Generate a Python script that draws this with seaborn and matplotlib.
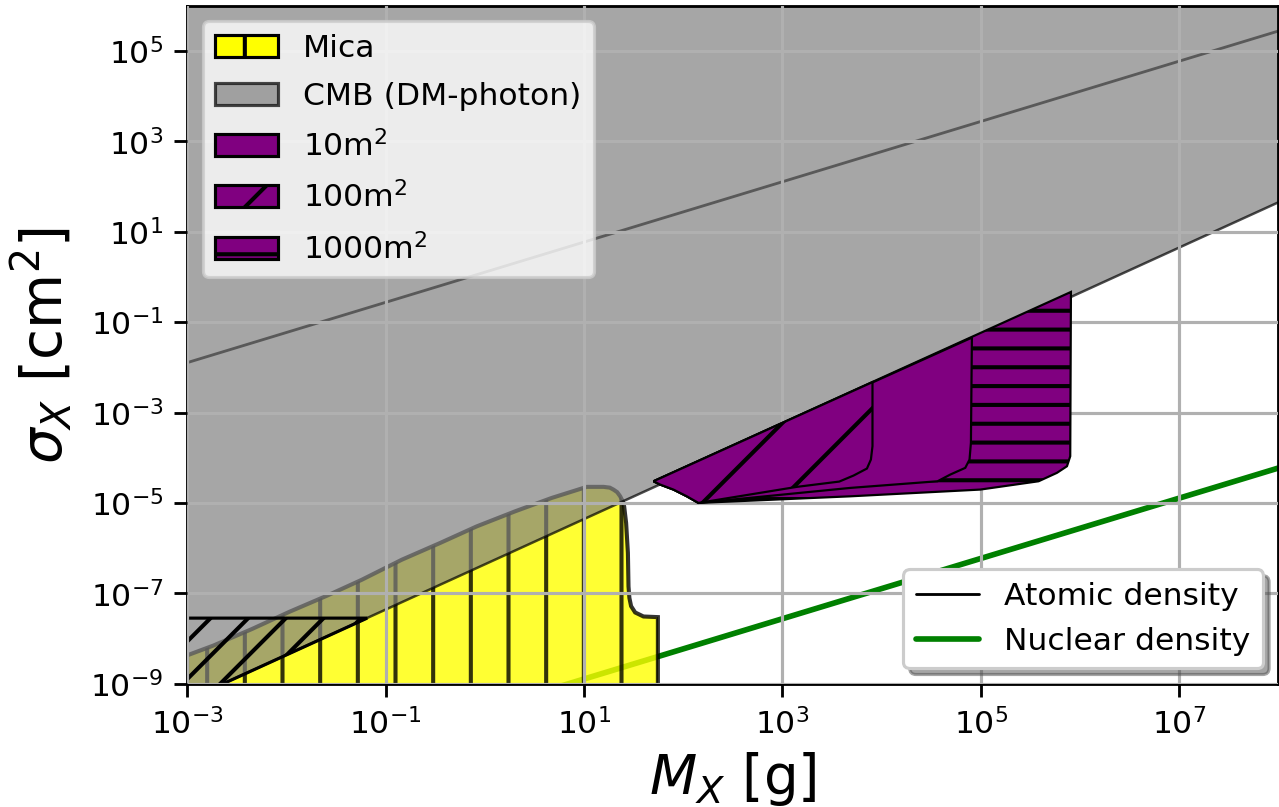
import numpy as np
import seaborn as sns
import matplotlib.pyplot as plt
from matplotlib.patches import Patch
from matplotlib.lines import Line2D

# all values are log10 (M_X in g, sigma_X in cm^2)

# Mica excluded region, upper boundary
MICA_LOGM = [-3.0, -2.735, -2.348, -1.962, -1.592, -1.239, -0.836, -0.450, -0.080,
             0.306, 0.676, 1.029, 1.197, 1.260, 1.297, 1.335, 1.365, 1.390, 1.405,
             1.425, 1.443, 1.449, 1.458, 1.475, 1.516, 1.600, 1.745]
MICA_LOGS = [-8.369, -8.152, -7.788, -7.399, -7.051, -6.697, -6.254, -5.884, -5.516,
             -5.184, -4.887, -4.643, -4.643, -4.660, -4.703, -4.760, -4.852, -4.960, -5.073,
             -5.441, -6.105, -6.845, -7.100, -7.280, -7.420, -7.509, -7.523]

# CMB (DM-photon) bound, lower edge of the grey band
CMB_LOGM = [-4.0, 9.0]
CMB_LOGS = [-10.36, 2.65]

# hatched strip below the flat limit in the lower-left corner
FLAT_LOGS = -7.545

# density lines
ATOMIC_LOGM = [-4.0, 9.0]
ATOMIC_LOGS = [-2.564, 6.103]
NUCLEAR_LOGM = [0.0, 9.0]
NUCLEAR_LOGS = [-9.559, -3.559]

# detector reach, shared left tip then each region's lower/right edge
TIP_LOGM = [1.701, 1.768, 1.902, 2.037, 2.154]
TIP_LOGS = [-4.519, -4.592, -4.703, -4.852, -4.998]
P1000_LOGM = [3.684, 4.994, 5.582, 5.767, 5.868, 5.901, 5.908]
P1000_LOGS = [-4.852, -4.703, -4.519, -4.333, -4.187, -3.966, -0.333]
P10_LOGM = [3.684, 4.564, 4.692, 4.843, 4.886, 4.900, 4.910]
P10_LOGS = [-4.666, -4.519, -4.371, -4.223, -4.039, -3.669, -1.343]
P100_LOGM = [3.146, 3.573, 3.717, 3.852, 3.892, 3.908, 3.908]
P100_LOGS = [-4.643, -4.526, -4.393, -4.238, -4.039, -3.744, -2.327]


def pw(v):
    return 10.0 ** np.asarray(v, dtype=float)


def main():
    sns.set_theme(style="ticks", rc={
        "axes.edgecolor": "black", "xtick.color": "black", "ytick.color": "black",
        "text.color": "black", "axes.labelcolor": "black",
        "grid.color": "#b0b0b0", "grid.linewidth": 1.0,
        "hatch.linewidth": 1.3, "axes.linewidth": 0.9,
    })
    plt.rcParams["font.family"] = ["DejaVu Sans"]

    dpi = 226
    fig = plt.figure(figsize=(1279.5 / dpi, 807.5 / dpi), dpi=dpi)
    ax = fig.add_axes([187 / 1279, 123 / 807, 1091 / 1279, 678 / 807])
    ax.set_xscale("log")
    ax.set_yscale("log")

    # density lines (under the fills)
    sns.lineplot(x=pw(ATOMIC_LOGM), y=pw(ATOMIC_LOGS), ax=ax, color="black",
                 lw=0.9, zorder=0.5)
    sns.lineplot(x=pw(NUCLEAR_LOGM), y=pw(NUCLEAR_LOGS), ax=ax, color="green",
                 lw=1.8, zorder=0.5)

    # Mica
    mx = list(pw(MICA_LOGM)) + [pw(MICA_LOGM[-1]), pw(MICA_LOGM[0])]
    my = list(pw(MICA_LOGS)) + [1e-11, 1e-11]
    ax.fill(mx, my, facecolor="yellow", edgecolor="black", alpha=0.8,
            hatch="|", lw=1.3, zorder=0.8)

    # CMB grey band
    cx = list(pw(CMB_LOGM)) + [1e9, 1e-4]
    cy = list(pw(CMB_LOGS)) + [1e8, 1e8]
    ax.fill(cx, cy, facecolor="gray", edgecolor="black", alpha=0.7,
            lw=0.8, zorder=1)

    # hatched strip lower-left
    slope_m = FLAT_LOGS - CMB_LOGS[0] + CMB_LOGM[0]
    hx = pw([CMB_LOGM[0], slope_m, CMB_LOGM[0]])
    hy = pw([FLAT_LOGS, FLAT_LOGS, CMB_LOGS[0]])
    ax.fill(hx, hy, facecolor="none", edgecolor="black", hatch="//",
            lw=1.0, zorder=1.2)

    # detector regions
    for lm, ls, hatch in [(P1000_LOGM, P1000_LOGS, "--"),
                          (P10_LOGM, P10_LOGS, None),
                          (P100_LOGM, P100_LOGS, "/")]:
        px = pw(TIP_LOGM + lm)
        py = pw(TIP_LOGS + ls)
        ax.fill(px, py, facecolor="purple", edgecolor="black", hatch=hatch,
                lw=0.7, zorder=3)

    ax.set_xlim(1e-3, 1e8)
    ax.set_ylim(1e-9, 1e6)
    ax.set_xticks(pw([-3, -1, 1, 3, 5, 7]))
    ax.set_yticks(pw([-9, -7, -5, -3, -1, 1, 3, 5]))
    ax.minorticks_off()
    ax.set_axisbelow(False)
    ax.grid(True, which="major")
    ax.tick_params(labelsize=10, length=4, width=0.9)
    ax.set_xlabel(r"$M_X$ [g]", fontsize=17.5, labelpad=3)
    ax.set_ylabel(r"$\sigma_X$ [cm$^2$]", fontsize=18, labelpad=5)

    h1 = [
        Patch(facecolor="yellow", edgecolor="black", hatch="|", lw=1.0),
        Patch(facecolor="gray", edgecolor="black", alpha=0.7, lw=1.0),
        Patch(facecolor="purple", edgecolor="black", lw=1.0),
        Patch(facecolor="purple", edgecolor="black", hatch="/", lw=1.0),
        Patch(facecolor="purple", edgecolor="black", hatch="--", lw=1.0),
    ]
    l1 = ["Mica", "CMB (DM-photon)", r"10m$^2$", r"100m$^2$", r"1000m$^2$"]
    leg1 = ax.legend(h1, l1, loc="upper left", fontsize=10, frameon=True,
                     labelspacing=0.6)
    leg1.set_zorder(5)
    ax.add_artist(leg1)

    h2 = [Line2D([], [], color="black", lw=0.9),
          Line2D([], [], color="green", lw=1.8)]
    leg2 = ax.legend(h2, ["Atomic density", "Nuclear density"], loc="lower right",
                     fontsize=10, frameon=True, shadow=True)
    leg2.set_zorder(5)

    fig.savefig("out.png", dpi=dpi)


if __name__ == "__main__":
    main()
